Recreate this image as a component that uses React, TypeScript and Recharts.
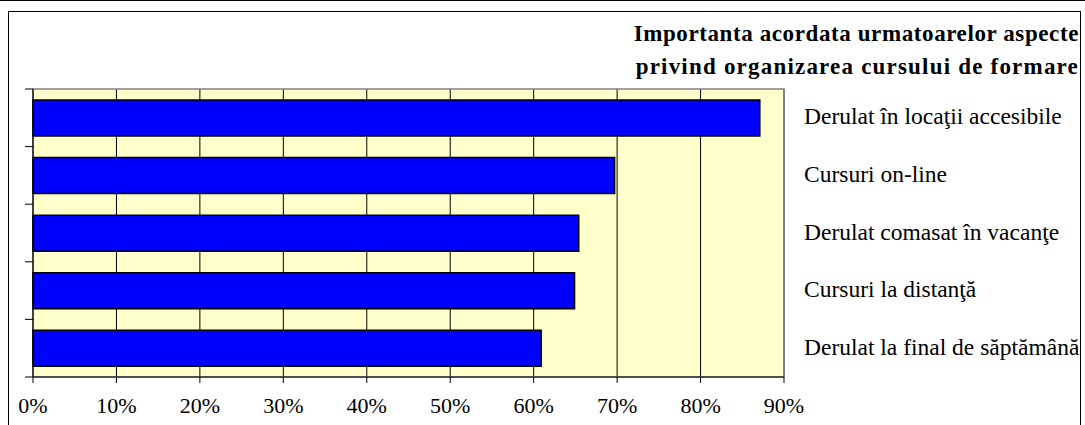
import { BarChart, Bar, XAxis, YAxis, CartesianGrid, ReferenceArea } from 'recharts';

const categories = [
  'Derulat în locaţii accesibile',
  'Cursuri on-line',
  'Derulat comasat în vacanţe',
  'Cursuri la distanţă',
  'Derulat la final de săptămână',
];
const values = [87.1, 69.7, 65.4, 64.9, 60.9];
const xTicks = [0, 10, 20, 30, 40, 50, 60, 70, 80, 90];
const titleLines = ['Importanta acordata urmatoarelor aspecte', 'privind organizarea cursului de formare'];

const data = categories.map((name, i) => ({ name, value: values[i] }));

const W = 1085;
const H = 425;
const MARGIN = { top: 89, right: 301, bottom: 0, left: 0 };
const X_AXIS_H = 48;
const Y_AXIS_W = 33;
const BAND = (H - MARGIN.top - X_AXIS_H) / categories.length;
const FONT = '"Liberation Serif", "Times New Roman", serif';

function CategoryTick(props: any) {
  const { y, payload, index } = props;
  const top = y - BAND / 2;
  return (
    <g>
      <line x1={25} x2={33} y1={top} y2={top} stroke="#000" />
      {index === categories.length - 1 && (
        <line x1={25} x2={33} y1={y + BAND / 2} y2={y + BAND / 2} stroke="#000" />
      )}
      <text x={804} y={y - 1.5} dominantBaseline="central" fontFamily={FONT} fontSize={23.5} fill="#000">
        {payload.value}
      </text>
    </g>
  );
}

export default function App() {
  return (
    <div style={{ position: 'absolute', left: 0, top: 0, width: W, height: H, background: '#fff', overflow: 'hidden' }}>
      <div style={{ position: 'absolute', left: 0, top: 0, width: W, height: 1, background: '#000' }} />
      <div
        style={{
          position: 'absolute',
          left: 8,
          top: 11,
          width: 1081 - 8,
          height: 500,
          border: '1px solid #000',
          boxSizing: 'border-box',
        }}
      />
      <div
        style={{
          position: 'absolute',
          right: W - 1079,
          top: 17,
          textAlign: 'right',
          fontFamily: FONT,
          fontWeight: 'bold',
          fontSize: 23,
          lineHeight: '33px',
          whiteSpace: 'nowrap',
        }}
      >
        <div style={{ letterSpacing: 0.6 }}>{titleLines[0]}</div>
        <div style={{ letterSpacing: 1.2 }}>{titleLines[1]}</div>
      </div>
      <div style={{ position: 'absolute', left: 0, top: 0 }}>
        <BarChart
          width={W}
          height={H}
          data={data}
          layout="vertical"
          margin={MARGIN}
          barCategoryGap="19%"
        >
          <CartesianGrid horizontal={false} stroke="#000" fill="#FFFFCC" fillOpacity={1} />
          <XAxis
            type="number"
            domain={[0, 90]}
            ticks={xTicks}
            tickFormatter={(v) => `${v}%`}
            height={X_AXIS_H}
            axisLine={{ stroke: '#000' }}
            tickLine={{ stroke: '#000' }}
            tickSize={6}
            tickMargin={14}
            tick={{ fontFamily: FONT, fontSize: 22, fill: '#000' }}
            interval={0}
          />
          <YAxis
            type="category"
            dataKey="name"
            width={Y_AXIS_W}
            axisLine={{ stroke: '#000' }}
            tickLine={false}
            tick={<CategoryTick />}
            interval={0}
          />
          <ReferenceArea x1={0} x2={90} fill="none" stroke="#808080" strokeWidth={1.5} ifOverflow="visible" />
          <Bar dataKey="value" fill="#0000FF" stroke="#000" strokeWidth={1.5} isAnimationActive={false} />
        </BarChart>
      </div>
    </div>
  );
}
